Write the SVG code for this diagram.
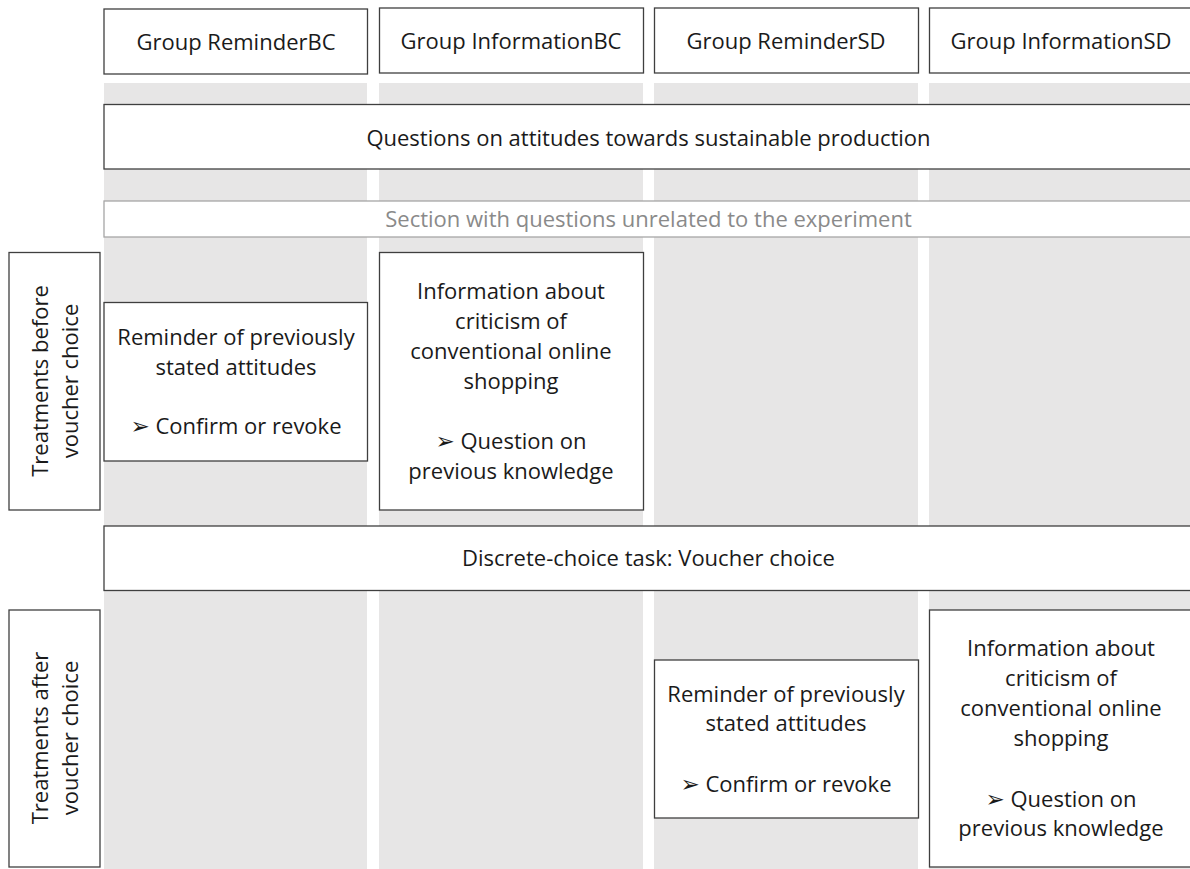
<svg xmlns="http://www.w3.org/2000/svg" width="1190" height="869" viewBox="0 0 1190 869">
  <style>
    .col { fill: #e7e6e6; }
    .box { fill: #ffffff; stroke: #3f3f3f; stroke-width: 1.3; }
    .lightbox { fill: #ffffff; stroke: #a6a6a6; stroke-width: 1.3; }
    text { font-family: "Open Sans", "Liberation Sans", sans-serif; font-size: 22px; fill: #1a1a1a; text-anchor: middle; }
    .gray { fill: #8a8a8a; }
    .arr { font-family: "DejaVu Sans", sans-serif; font-size: 23px; }
  </style>
  <rect width="1190" height="869" fill="#ffffff"/>
  <g id="columns">
    <rect class="col" x="104" y="83" width="263" height="786"/>
    <rect class="col" x="379" y="83" width="264" height="786"/>
    <rect class="col" x="654" y="83" width="264" height="786"/>
    <rect class="col" x="929" y="83" width="264" height="786"/>
  </g>
  <g id="connectors"></g>
  <g id="header-reminderBC">
    <rect class="box" x="104" y="9" width="263.5" height="65"/>
    <text x="236" y="50">Group ReminderBC</text>
  </g>
  <g id="header-informationBC">
    <rect class="box" x="379.5" y="8" width="264" height="65"/>
    <text x="511" y="49">Group InformationBC</text>
  </g>
  <g id="header-reminderSD">
    <rect class="box" x="654.5" y="8" width="264" height="65"/>
    <text x="786" y="49">Group ReminderSD</text>
  </g>
  <g id="header-informationSD">
    <rect class="box" x="929.5" y="8" width="264" height="65"/>
    <text x="1061" y="49">Group InformationSD</text>
  </g>
  <g id="questions-attitudes">
    <rect class="box" x="104" y="104.5" width="1090" height="64.5"/>
    <text x="648.5" y="145.5">Questions on attitudes towards sustainable production</text>
  </g>
  <g id="unrelated-section">
    <rect class="lightbox" x="104" y="201" width="1090" height="36"/>
    <text class="gray" x="648.5" y="226.5">Section with questions unrelated to the experiment</text>
  </g>
  <g id="label-before">
    <rect class="box" x="9" y="252.5" width="91" height="257.5"/>
    <text transform="translate(48,381) rotate(-90)">Treatments before</text>
    <text transform="translate(78,381) rotate(-90)">voucher choice</text>
  </g>
  <g id="reminderBC">
    <rect class="box" x="104" y="302.5" width="263.5" height="158.5"/>
    <text x="236" y="345">Reminder of previously</text>
    <text x="236" y="374.5">stated attitudes</text>
    <text x="236" y="434"><tspan class="arr">➢</tspan> Confirm or revoke</text>
  </g>
  <g id="informationBC">
    <rect class="box" x="379.5" y="252.5" width="264" height="257.5"/>
    <text x="511" y="298.5">Information about</text>
    <text x="511" y="328.5">criticism of</text>
    <text x="511" y="358.5">conventional online</text>
    <text x="511" y="388.5">shopping</text>
    <text x="511" y="449"><tspan class="arr">➢</tspan> Question on</text>
    <text x="511" y="478.5">previous knowledge</text>
  </g>
  <g id="discrete-choice">
    <rect class="box" x="104" y="526" width="1090" height="64.5"/>
    <text x="648.5" y="566">Discrete-choice task: Voucher choice</text>
  </g>
  <g id="label-after">
    <rect class="box" x="9" y="610" width="91" height="257"/>
    <text transform="translate(48,738) rotate(-90)">Treatments after</text>
    <text transform="translate(78,738) rotate(-90)">voucher choice</text>
  </g>
  <g id="reminderSD">
    <rect class="box" x="654.5" y="660" width="264" height="158"/>
    <text x="786" y="702">Reminder of previously</text>
    <text x="786" y="731">stated attitudes</text>
    <text x="786" y="791.5"><tspan class="arr">➢</tspan> Confirm or revoke</text>
  </g>
  <g id="informationSD">
    <rect class="box" x="929.5" y="610" width="264" height="257"/>
    <text x="1061" y="655.5">Information about</text>
    <text x="1061" y="685.5">criticism of</text>
    <text x="1061" y="715.5">conventional online</text>
    <text x="1061" y="745.5">shopping</text>
    <text x="1061" y="806.5"><tspan class="arr">➢</tspan> Question on</text>
    <text x="1061" y="836">previous knowledge</text>
  </g>
</svg>
